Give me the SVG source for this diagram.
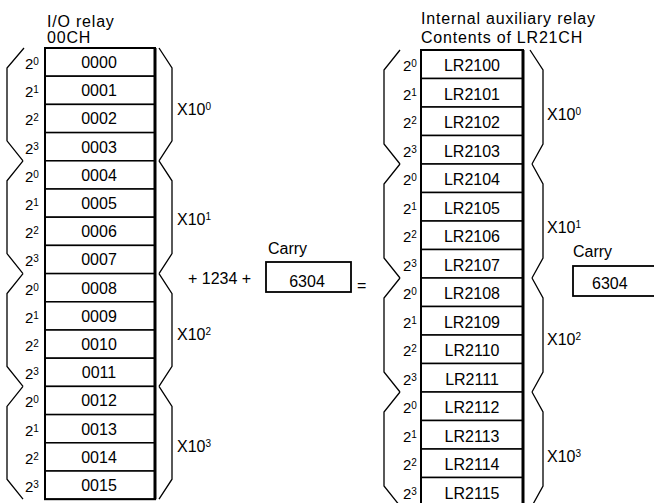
<svg xmlns="http://www.w3.org/2000/svg" width="654" height="503" viewBox="0 0 654 503">
<defs>
<style>
.t{font-family:"Liberation Sans",Arial,Helvetica,sans-serif;font-size:16px;fill:#000}
.h{font-size:16px;letter-spacing:0.8px}
.c{text-anchor:middle}
.p{font-size:15px}
.s{font-size:10px}
.cell{fill:#fff;stroke:#000;stroke-width:1.5}
.edge{stroke:#000;stroke-width:3;fill:none}
.box{fill:#fff;stroke:#000;stroke-width:1.8}
.brace{fill:none;stroke:#000;stroke-width:1.3;stroke-linejoin:miter}
</style>
</defs>
<rect width="654" height="503" fill="#fff"/>

<g id="header-left">
<text class="t h" x="47" y="27">I/O relay</text>
<text class="t h" x="47" y="43">00CH</text>
</g>
<g id="header-right">
<text class="t h" x="421" y="24">Internal auxiliary relay</text>
<text class="t h" x="421" y="43">Contents of LR21CH</text>
</g>

<g id="io-relay-00CH">
<rect class="cell" x="45" y="48" width="110" height="28.2"/>
<rect class="cell" x="45" y="76.2" width="110" height="28.2"/>
<rect class="cell" x="45" y="104.4" width="110" height="28.2"/>
<rect class="cell" x="45" y="132.6" width="110" height="28.2"/>
<rect class="cell" x="45" y="160.8" width="110" height="28.2"/>
<rect class="cell" x="45" y="189" width="110" height="28.2"/>
<rect class="cell" x="45" y="217.2" width="110" height="28.2"/>
<rect class="cell" x="45" y="245.4" width="110" height="28.2"/>
<rect class="cell" x="45" y="273.6" width="110" height="28.2"/>
<rect class="cell" x="45" y="301.8" width="110" height="28.2"/>
<rect class="cell" x="45" y="330" width="110" height="28.2"/>
<rect class="cell" x="45" y="358.2" width="110" height="28.2"/>
<rect class="cell" x="45" y="386.4" width="110" height="28.2"/>
<rect class="cell" x="45" y="414.6" width="110" height="28.2"/>
<rect class="cell" x="45" y="442.8" width="110" height="28.2"/>
<rect class="cell" x="45" y="471" width="110" height="28.2"/>
<rect x="45" y="48" width="110" height="451.2" fill="none" stroke="#000" stroke-width="2"/>
<line class="edge" x1="155" y1="48" x2="155" y2="499.2"/>
<text class="t c" x="99" y="68">0000</text>
<text class="t c" x="99" y="96.2">0001</text>
<text class="t c" x="99" y="124.4">0002</text>
<text class="t c" x="99" y="152.6">0003</text>
<text class="t c" x="99" y="180.8">0004</text>
<text class="t c" x="99" y="209">0005</text>
<text class="t c" x="99" y="237.2">0006</text>
<text class="t c" x="99" y="265.4">0007</text>
<text class="t c" x="99" y="293.6">0008</text>
<text class="t c" x="99" y="321.8">0009</text>
<text class="t c" x="99" y="350">0010</text>
<text class="t c" x="99" y="378.2">0011</text>
<text class="t c" x="99" y="406.4">0012</text>
<text class="t c" x="99" y="434.6">0013</text>
<text class="t c" x="99" y="462.8">0014</text>
<text class="t c" x="99" y="491">0015</text>
</g>

<g id="io-bit-weights">
<text class="t p" x="25" y="69">2<tspan class="s" dy="-4">0</tspan></text>
<text class="t p" x="25" y="97.2">2<tspan class="s" dy="-4">1</tspan></text>
<text class="t p" x="25" y="125.4">2<tspan class="s" dy="-4">2</tspan></text>
<text class="t p" x="25" y="153.6">2<tspan class="s" dy="-4">3</tspan></text>
<text class="t p" x="25" y="181.8">2<tspan class="s" dy="-4">0</tspan></text>
<text class="t p" x="25" y="210">2<tspan class="s" dy="-4">1</tspan></text>
<text class="t p" x="25" y="238.2">2<tspan class="s" dy="-4">2</tspan></text>
<text class="t p" x="25" y="266.4">2<tspan class="s" dy="-4">3</tspan></text>
<text class="t p" x="25" y="294.6">2<tspan class="s" dy="-4">0</tspan></text>
<text class="t p" x="25" y="322.8">2<tspan class="s" dy="-4">1</tspan></text>
<text class="t p" x="25" y="351">2<tspan class="s" dy="-4">2</tspan></text>
<text class="t p" x="25" y="379.2">2<tspan class="s" dy="-4">3</tspan></text>
<text class="t p" x="25" y="407.4">2<tspan class="s" dy="-4">0</tspan></text>
<text class="t p" x="25" y="435.6">2<tspan class="s" dy="-4">1</tspan></text>
<text class="t p" x="25" y="463.8">2<tspan class="s" dy="-4">2</tspan></text>
<text class="t p" x="25" y="492">2<tspan class="s" dy="-4">3</tspan></text>
</g>

<g id="io-decades">
<text class="t" x="177" y="115">X10<tspan class="s" dy="-5">0</tspan></text>
<text class="t" x="177" y="225">X10<tspan class="s" dy="-5">1</tspan></text>
<text class="t" x="177" y="340">X10<tspan class="s" dy="-5">2</tspan></text>
<text class="t" x="177" y="452">X10<tspan class="s" dy="-5">3</tspan></text>
</g>

<g id="lr-relay-LR21CH">
<rect class="cell" x="421" y="50" width="102" height="28.5"/>
<rect class="cell" x="421" y="78.5" width="102" height="28.5"/>
<rect class="cell" x="421" y="107" width="102" height="28.5"/>
<rect class="cell" x="421" y="135.5" width="102" height="28.5"/>
<rect class="cell" x="421" y="164" width="102" height="28.5"/>
<rect class="cell" x="421" y="192.5" width="102" height="28.5"/>
<rect class="cell" x="421" y="221" width="102" height="28.5"/>
<rect class="cell" x="421" y="249.5" width="102" height="28.5"/>
<rect class="cell" x="421" y="278" width="102" height="28.5"/>
<rect class="cell" x="421" y="306.5" width="102" height="28.5"/>
<rect class="cell" x="421" y="335" width="102" height="28.5"/>
<rect class="cell" x="421" y="363.5" width="102" height="28.5"/>
<rect class="cell" x="421" y="392" width="102" height="28.5"/>
<rect class="cell" x="421" y="420.5" width="102" height="28.5"/>
<rect class="cell" x="421" y="449" width="102" height="28.5"/>
<rect class="cell" x="421" y="477.5" width="102" height="28.5"/>
<rect x="421" y="50" width="102" height="456" fill="none" stroke="#000" stroke-width="2"/>
<line class="edge" x1="523" y1="50" x2="523" y2="506"/>
<text class="t c" x="472" y="71">LR2100</text>
<text class="t c" x="472" y="99.5">LR2101</text>
<text class="t c" x="472" y="128">LR2102</text>
<text class="t c" x="472" y="156.5">LR2103</text>
<text class="t c" x="472" y="185">LR2104</text>
<text class="t c" x="472" y="213.5">LR2105</text>
<text class="t c" x="472" y="242">LR2106</text>
<text class="t c" x="472" y="270.5">LR2107</text>
<text class="t c" x="472" y="299">LR2108</text>
<text class="t c" x="472" y="327.5">LR2109</text>
<text class="t c" x="472" y="356">LR2110</text>
<text class="t c" x="472" y="384.5">LR2111</text>
<text class="t c" x="472" y="413">LR2112</text>
<text class="t c" x="472" y="441.5">LR2113</text>
<text class="t c" x="472" y="470">LR2114</text>
<text class="t c" x="472" y="498.5">LR2115</text>
</g>

<g id="lr-bit-weights">
<text class="t p" x="403" y="71">2<tspan class="s" dy="-4">0</tspan></text>
<text class="t p" x="403" y="99.5">2<tspan class="s" dy="-4">1</tspan></text>
<text class="t p" x="403" y="128">2<tspan class="s" dy="-4">2</tspan></text>
<text class="t p" x="403" y="156.5">2<tspan class="s" dy="-4">3</tspan></text>
<text class="t p" x="403" y="185">2<tspan class="s" dy="-4">0</tspan></text>
<text class="t p" x="403" y="213.5">2<tspan class="s" dy="-4">1</tspan></text>
<text class="t p" x="403" y="242">2<tspan class="s" dy="-4">2</tspan></text>
<text class="t p" x="403" y="270.5">2<tspan class="s" dy="-4">3</tspan></text>
<text class="t p" x="403" y="299">2<tspan class="s" dy="-4">0</tspan></text>
<text class="t p" x="403" y="327.5">2<tspan class="s" dy="-4">1</tspan></text>
<text class="t p" x="403" y="356">2<tspan class="s" dy="-4">2</tspan></text>
<text class="t p" x="403" y="384.5">2<tspan class="s" dy="-4">3</tspan></text>
<text class="t p" x="403" y="413">2<tspan class="s" dy="-4">0</tspan></text>
<text class="t p" x="403" y="441.5">2<tspan class="s" dy="-4">1</tspan></text>
<text class="t p" x="403" y="470">2<tspan class="s" dy="-4">2</tspan></text>
<text class="t p" x="403" y="498.5">2<tspan class="s" dy="-4">3</tspan></text>
</g>

<g id="lr-decades">
<text class="t" x="547" y="120">X10<tspan class="s" dy="-5">0</tspan></text>
<text class="t" x="547" y="233">X10<tspan class="s" dy="-5">1</tspan></text>
<text class="t" x="547" y="345">X10<tspan class="s" dy="-5">2</tspan></text>
<text class="t" x="547" y="462">X10<tspan class="s" dy="-5">3</tspan></text>
</g>

<g id="braces">
<path class="brace" d="M24 48 L7 68 L7 140.8 L23 160.8"/>
<path class="brace" d="M23 160.8 L7 180.8 L7 253.6 L23 273.6"/>
<path class="brace" d="M23 273.6 L7 293.6 L7 366.4 L23 386.4"/>
<path class="brace" d="M23 386.4 L7 406.4 L7 479.2 L23 499.2"/>
<path class="brace" d="M159 48 L172 68 L172 140.8 L159 160.8"/>
<path class="brace" d="M159 160.8 L172 180.8 L172 253.6 L159 273.6"/>
<path class="brace" d="M159 273.6 L172 293.6 L172 366.4 L159 386.4"/>
<path class="brace" d="M159 386.4 L172 406.4 L172 479.2 L159 499.2"/>
<path class="brace" d="M400 50 L384 70 L384 144 L400 164"/>
<path class="brace" d="M400 164 L384 184 L384 258 L400 278"/>
<path class="brace" d="M400 278 L384 298 L384 372 L400 392"/>
<path class="brace" d="M400 392 L384 412 L384 486 L400 506"/>
<path class="brace" d="M530 50 L543 70 L543 144 L532 164"/>
<path class="brace" d="M532 164 L543 184 L543 258 L532 278"/>
<path class="brace" d="M532 278 L543 298 L543 372 L532 392"/>
<path class="brace" d="M532 392 L543 412 L543 486 L532 506"/>
</g>

<g id="addition">
<text class="t" x="188" y="284">+ 1234 +</text>
<text class="t" x="357" y="291">=</text>
</g>

<g id="carry-in">
<text class="t" x="268" y="254">Carry</text>
<rect class="box" x="266" y="262" width="85" height="30"/>
<text class="t c" x="307" y="287">6304</text>
</g>

<g id="carry-out">
<text class="t" x="573" y="257">Carry</text>
<rect class="box" x="573" y="266" width="90" height="30"/>
<text class="t" x="592" y="289">6304</text>
</g>

<g id="connectors"/>
</svg>
